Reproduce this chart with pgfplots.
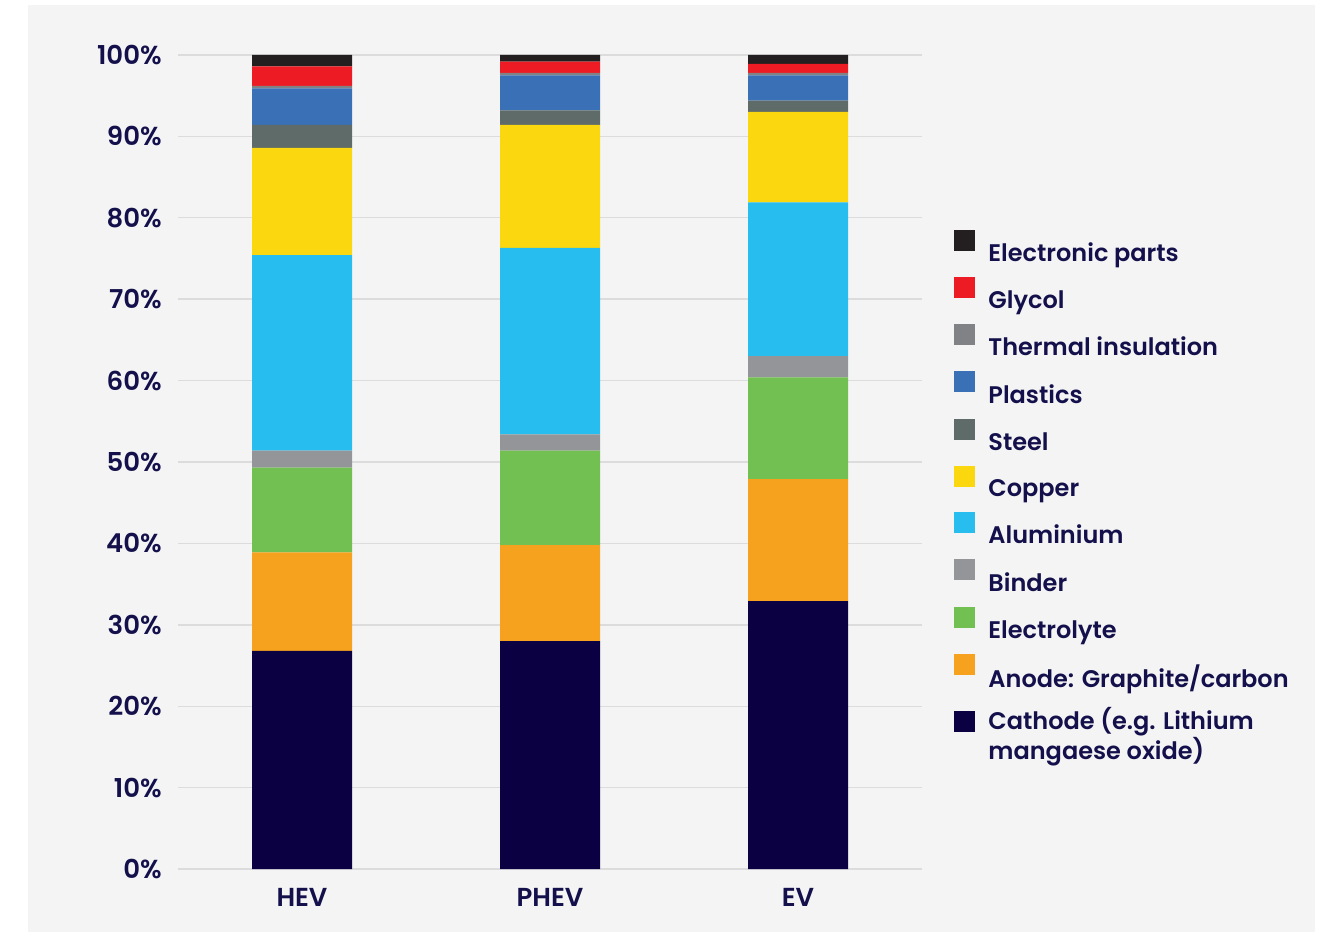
\documentclass[border=0pt]{standalone}
\usepackage{pgfplots}
\pgfplotsset{compat=1.18}
\usepackage{fontspec}
\setmainfont{Poppins}[UprightFont=* Medium, BoldFont=* SemiBold]

\definecolor{txt}{HTML}{13104B}
\definecolor{panel}{HTML}{F4F4F4}
\definecolor{gridc}{HTML}{DCDCDC}
\definecolor{cElec}{HTML}{231F20}
\definecolor{cGlyc}{HTML}{ED1C24}
\definecolor{cTherm}{HTML}{808285}
\definecolor{cPlast}{HTML}{3A70B5}
\definecolor{cSteel}{HTML}{5E6B68}
\definecolor{cCopp}{HTML}{FBD70F}
\definecolor{cAlu}{HTML}{27BDEE}
\definecolor{cBind}{HTML}{939598}
\definecolor{cElyt}{HTML}{72BF52}
\definecolor{cAnod}{HTML}{F7A21E}
\definecolor{cCath}{HTML}{0B0042}

\begin{document}
\begin{tikzpicture}
% canvas and light panel
\fill[white] (0,0) rectangle (662.5pt,466pt);
\fill[panel] (14pt,0) rectangle (657.5pt,463.5pt);
\begin{axis}[
  at={(89pt,31.5pt)}, anchor=south west,
  scale only axis, width=372pt, height=407pt,
  ybar stacked, bar width=50pt,
  xmin=-0.5, xmax=2.5, ymin=0, ymax=100,
  xtick={0,1,2}, xticklabels={HEV,PHEV,EV},
  ytick={0,10,...,100},
  yticklabels={0\%,10\%,20\%,30\%,40\%,50\%,60\%,70\%,80\%,90\%,100\%},
  ymajorgrids, grid style={gridc, line width=0.7pt},
  axis line style={draw=none}, major tick length=0pt,
  tick label style={font=\bfseries\fontsize{13}{15}\selectfont, text=txt, inner sep=0pt},
  y tick label style={xshift=-8pt},
  x tick label style={anchor=north, yshift=-9.5pt},
  legend style={at={(1.035,0.791)}, anchor=north west, draw=none, fill=none,
    font=\bfseries\fontsize{12}{13.5}\selectfont, text=txt,
    row sep=4.25pt, column sep=4.5pt,
    nodes={align=left}},
  legend cell align=left, reverse legend,
  legend image code/.code={\fill[#1] (0pt,1.5pt) rectangle (10.5pt,12pt);},
]
\addplot[fill=cCath, draw=none] coordinates {(0,26.8) (1,28.0) (2,32.9)};
\addlegendentry{Cathode (e.g. Lithium\\mangaese oxide)}
\addplot[fill=cAnod, draw=none] coordinates {(0,12.1) (1,11.8) (2,15.0)};
\addlegendentry{Anode: Graphite/carbon}
\addplot[fill=cElyt, draw=none] coordinates {(0,10.4) (1,11.6) (2,12.5)};
\addlegendentry{Electrolyte}
\addplot[fill=cBind, draw=none] coordinates {(0,2.1) (1,2.0) (2,2.6)};
\addlegendentry{Binder}
\addplot[fill=cAlu, draw=none] coordinates {(0,24.0) (1,22.9) (2,18.9)};
\addlegendentry{Aluminium}
\addplot[fill=cCopp, draw=none] coordinates {(0,13.2) (1,15.1) (2,11.1)};
\addlegendentry{Copper}
\addplot[fill=cSteel, draw=none] coordinates {(0,2.8) (1,1.8) (2,1.4)};
\addlegendentry{Steel}
\addplot[fill=cPlast, draw=none] coordinates {(0,4.5) (1,4.3) (2,3.1)};
\addlegendentry{Plastics}
\addplot[fill=cTherm, draw=none] coordinates {(0,0.3) (1,0.3) (2,0.3)};
\addlegendentry{Thermal insulation}
\addplot[fill=cGlyc, draw=none] coordinates {(0,2.4) (1,1.4) (2,1.1)};
\addlegendentry{Glycol}
\addplot[fill=cElec, draw=none] coordinates {(0,1.4) (1,0.8) (2,1.1)};
\addlegendentry{Electronic parts}
\end{axis}
\end{tikzpicture}
\end{document}
